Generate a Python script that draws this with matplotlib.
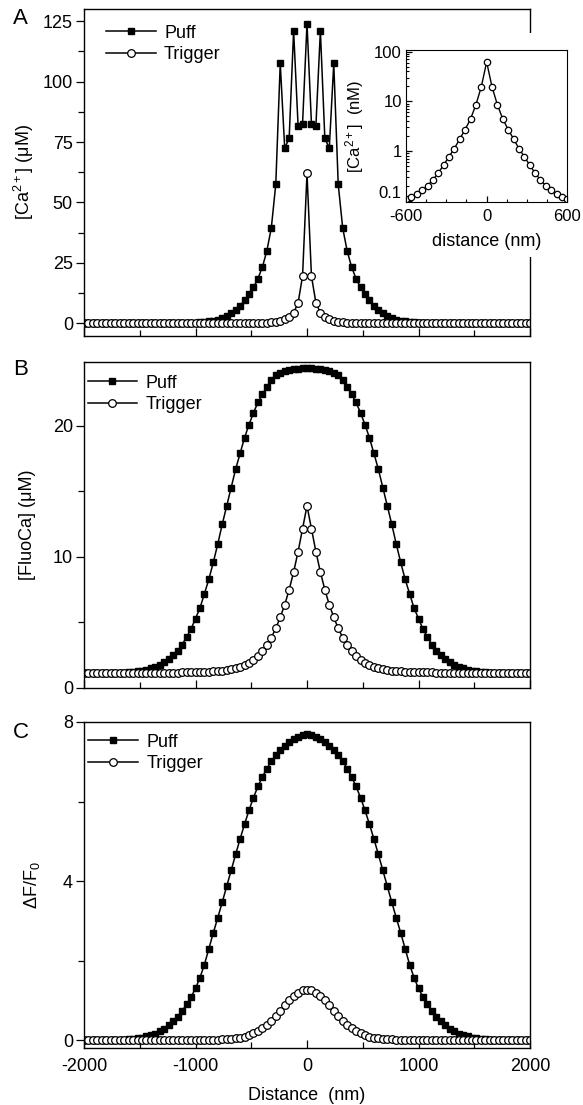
import numpy as np
import matplotlib
matplotlib.use('Agg')
import matplotlib.pyplot as plt
from matplotlib.patches import Rectangle
from matplotlib.transforms import ScaledTranslation
from matplotlib.ticker import MultipleLocator, LogLocator, FixedLocator, FixedFormatter, NullFormatter

plt.rcParams['font.family'] = ['Liberation Sans', 'DejaVu Sans']
plt.rcParams['mathtext.default'] = 'regular'
plt.rcParams['axes.unicode_minus'] = False

# sample grid (nm), 40 nm apart
distance = np.arange(-2000, 2001, 40)

# profiles are symmetric about 0, values read from 0 to 2000 nm
# Panel A: free [Ca2+] (uM)
ca_puff_half = [124, 82.5, 81.8, 121, 76.5, 72.5, 107.5, 57.5, 39.5, 30,
                23.3, 18.5, 14.9, 12.0, 9.5, 7.4, 5.6, 4.2, 3.0, 2.1,
                1.5, 1.1, 0.8, 0.6, 0.45, 0.35, 0.3, 0.25, 0.22, 0.2,
                0.18, 0.17, 0.16, 0.15, 0.14, 0.13, 0.13, 0.12, 0.12, 0.12,
                0.11, 0.11, 0.11, 0.11, 0.1, 0.1, 0.1, 0.1, 0.1, 0.1, 0.1]
ca_trigger_half = [62, 19.5, 8.5, 4.4, 2.7, 1.75, 1.12, 0.77, 0.52, 0.36,
                   0.26, 0.2, 0.16, 0.135, 0.118, 0.108, 0.1, 0.1, 0.1, 0.1,
                   0.1, 0.1, 0.1, 0.1, 0.1, 0.1, 0.1, 0.1, 0.1, 0.1,
                   0.1, 0.1, 0.1, 0.1, 0.1, 0.1, 0.1, 0.1, 0.1, 0.1,
                   0.1, 0.1, 0.1, 0.1, 0.1, 0.1, 0.1, 0.1, 0.1, 0.1, 0.1]

# Panel B: [FluoCa] (uM)
fluo_puff_half = [24.4, 24.4, 24.38, 24.35, 24.3, 24.2, 24.05, 23.85, 23.5, 23.0,
                  22.4, 21.8, 21.0, 20.1, 19.1, 17.9, 16.7, 15.3, 13.9, 12.5,
                  11.0, 9.6, 8.3, 7.2, 6.1, 5.3, 4.5, 3.9, 3.3, 2.85,
                  2.5, 2.2, 1.96, 1.78, 1.63, 1.5, 1.4, 1.32, 1.27, 1.23,
                  1.2, 1.18, 1.17, 1.16, 1.15, 1.15, 1.15, 1.15, 1.15, 1.15, 1.15]
fluo_trigger_half = [13.9, 12.15, 10.4, 8.85, 7.5, 6.35, 5.4, 4.55, 3.85, 3.28,
                     2.82, 2.45, 2.15, 1.93, 1.75, 1.62, 1.52, 1.44, 1.38, 1.33,
                     1.3, 1.27, 1.25, 1.23, 1.22, 1.21, 1.2, 1.19, 1.19, 1.18,
                     1.18, 1.17, 1.17, 1.17, 1.16, 1.16, 1.16, 1.16, 1.15, 1.15,
                     1.15, 1.15, 1.15, 1.15, 1.15, 1.15, 1.15, 1.15, 1.15, 1.15, 1.15]

# Panel C: dF/F0
df_puff_half = [7.70, 7.68, 7.63, 7.56, 7.49, 7.40, 7.29, 7.16, 7.01, 6.83,
                6.62, 6.38, 6.10, 5.78, 5.43, 5.06, 4.67, 4.27, 3.87, 3.47,
                3.08, 2.70, 2.30, 1.90, 1.57, 1.30, 1.08, 0.90, 0.73, 0.59,
                0.47, 0.37, 0.29, 0.22, 0.16, 0.12, 0.09, 0.06, 0.04, 0.03,
                0.02, 0.01, 0, 0, 0, 0, 0, 0, 0, 0, 0]
df_trigger_half = [1.27, 1.25, 1.19, 1.11, 1.0, 0.87, 0.74, 0.61, 0.49, 0.39,
                   0.3, 0.23, 0.17, 0.12, 0.085, 0.06, 0.04, 0.03, 0.02, 0.015,
                   0.01, 0, 0, 0, 0, 0, 0, 0, 0, 0,
                   0, 0, 0, 0, 0, 0, 0, 0, 0, 0,
                   0, 0, 0, 0, 0, 0, 0, 0, 0, 0, 0]

FS = 13


# Function to turn a half profile into the full symmetric one
def mirror(half):
    half = np.asarray(half, dtype=float)
    return np.concatenate([half[:0:-1], half])


# Function to draw the puff and trigger curves on one panel
def plot_pair(ax, puff, trigger, ms=5):
    ax.plot(distance, mirror(puff), color='black', lw=1.1, marker='s', ms=ms,
            mfc='black', mec='black', label='Puff')
    ax.plot(distance, mirror(trigger), color='black', lw=1.1, marker='o', ms=ms + 0.5,
            mfc='white', mec='black', mew=0.9, label='Trigger')


# Function to set up ticks/limits of a main panel
def style_panel(ax, ylim, major, minor):
    ax.set_xlim(-2000, 2000)
    ax.set_ylim(*ylim)
    ax.xaxis.set_major_locator(MultipleLocator(1000))
    ax.xaxis.set_minor_locator(MultipleLocator(500))
    ax.yaxis.set_major_locator(MultipleLocator(major))
    ax.yaxis.set_minor_locator(MultipleLocator(minor))
    ax.tick_params(axis='y', which='both', direction='out', right=False, labelsize=FS, pad=2)
    ax.tick_params(axis='x', which='both', direction='in', top=False, labelsize=FS, pad=7)
    ax.tick_params(which='major', length=6, width=0.9)
    ax.tick_params(which='minor', length=4, width=0.9)
    for sp in ax.spines.values():
        sp.set_linewidth(1.0)


def add_legend(ax, x, y):
    ax.legend(loc='upper left', bbox_to_anchor=(x, y), frameon=False, fontsize=FS,
              handlelength=2.75, handletextpad=0.45, labelspacing=0.25,
              borderpad=0, borderaxespad=0)


fig = plt.figure(figsize=(5.83, 11.05), dpi=100)
W, H = 583.0, 1105.0

# Panel A
axA = fig.add_axes([84 / W, 1 - 335.5 / H, 446 / W, 326.5 / H])
plot_pair(axA, ca_puff_half, ca_trigger_half)
style_panel(axA, (-5, 130), 25, 12.5)
axA.set_xticklabels([])
axA.set_ylabel('[Ca$^{2+}$] (μM)', fontsize=FS)
add_legend(axA, 0.05, 0.952)

# Panel B
axB = fig.add_axes([84 / W, 1 - 688 / H, 446 / W, 326.3 / H])
plot_pair(axB, fluo_puff_half, fluo_trigger_half)
style_panel(axB, (0, 24.9), 10, 5)
axB.set_xticklabels([])
axB.set_ylabel('[FluoCa] (μM)', fontsize=FS)
add_legend(axB, 0.008, 0.96)

# Panel C
axC = fig.add_axes([84 / W, 1 - 1048 / H, 446 / W, 326 / H])
plot_pair(axC, df_puff_half, df_trigger_half)
style_panel(axC, (-0.2, 8), 4, 2)
axC.set_ylabel('ΔF/F$_0$', fontsize=FS)
axC.set_xlabel('Distance  (nm)', fontsize=FS, labelpad=9)
add_legend(axC, 0.01, 0.964)

axA.yaxis.set_label_coords(-0.108, 0.5)
axB.yaxis.set_label_coords(-0.108, 0.5)
axC.yaxis.set_label_coords(-0.095, 0.5)

# panel letters
fig.text(13 / W, 1 - 18 / H, 'A', fontsize=16, va='center', ha='left')
fig.text(13 / W, 1 - 370 / H, 'B', fontsize=16, va='center', ha='left')
fig.text(13 / W, 1 - 733 / H, 'C', fontsize=16, va='center', ha='left')

# white patch hiding the right spine of A behind the inset
fig.patches.append(Rectangle((515 / W, 1 - 257 / H), 30 / W, 224 / H,
                             transform=fig.transFigure, facecolor='white',
                             edgecolor='none', zorder=1))

# Inset: trigger on log scale
inset_mask = np.abs(distance) <= 600
axI = fig.add_axes([406 / W, 1 - 201.7 / H, 161.3 / W, 151.7 / H])
axI.set_zorder(2)
axI.plot(distance[inset_mask], mirror(ca_trigger_half)[inset_mask], color='black', lw=1.0,
         marker='o', ms=4.6, mfc='white', mec='black', mew=0.9)
axI.set_yscale('log')
axI.set_xlim(-600, 600)
axI.set_ylim(0.095, 108)
axI.xaxis.set_major_locator(MultipleLocator(600))
axI.xaxis.set_minor_locator(MultipleLocator(150))
axI.yaxis.set_major_locator(FixedLocator([0.1, 1, 10, 100]))
axI.yaxis.set_major_formatter(FixedFormatter(['0.1', '1', '10', '100']))
axI.yaxis.set_minor_locator(LogLocator(base=10, subs=np.arange(2, 10)))
axI.yaxis.set_minor_formatter(NullFormatter())
axI.tick_params(which='both', direction='in', top=False, right=False, labelsize=12)
axI.tick_params(axis='x', pad=5)
axI.tick_params(axis='y', pad=3)
axI.tick_params(which='major', length=4, width=0.9)
axI.tick_params(which='minor', length=2.5, width=0.8)
axI.set_xlabel('distance (nm)', fontsize=13, labelpad=7)
axI.set_ylabel('[Ca$^{2+}$]  (nM)', fontsize=12, labelpad=6)

# lift the "0.1" label a little, as in the original
low_tick = axI.yaxis.get_major_ticks()[0]
low_tick.label1.set_transform(low_tick.label1.get_transform()
                              + ScaledTranslation(0, 6 / 72, fig.dpi_scale_trans))

fig.savefig('out.png', dpi=100)
